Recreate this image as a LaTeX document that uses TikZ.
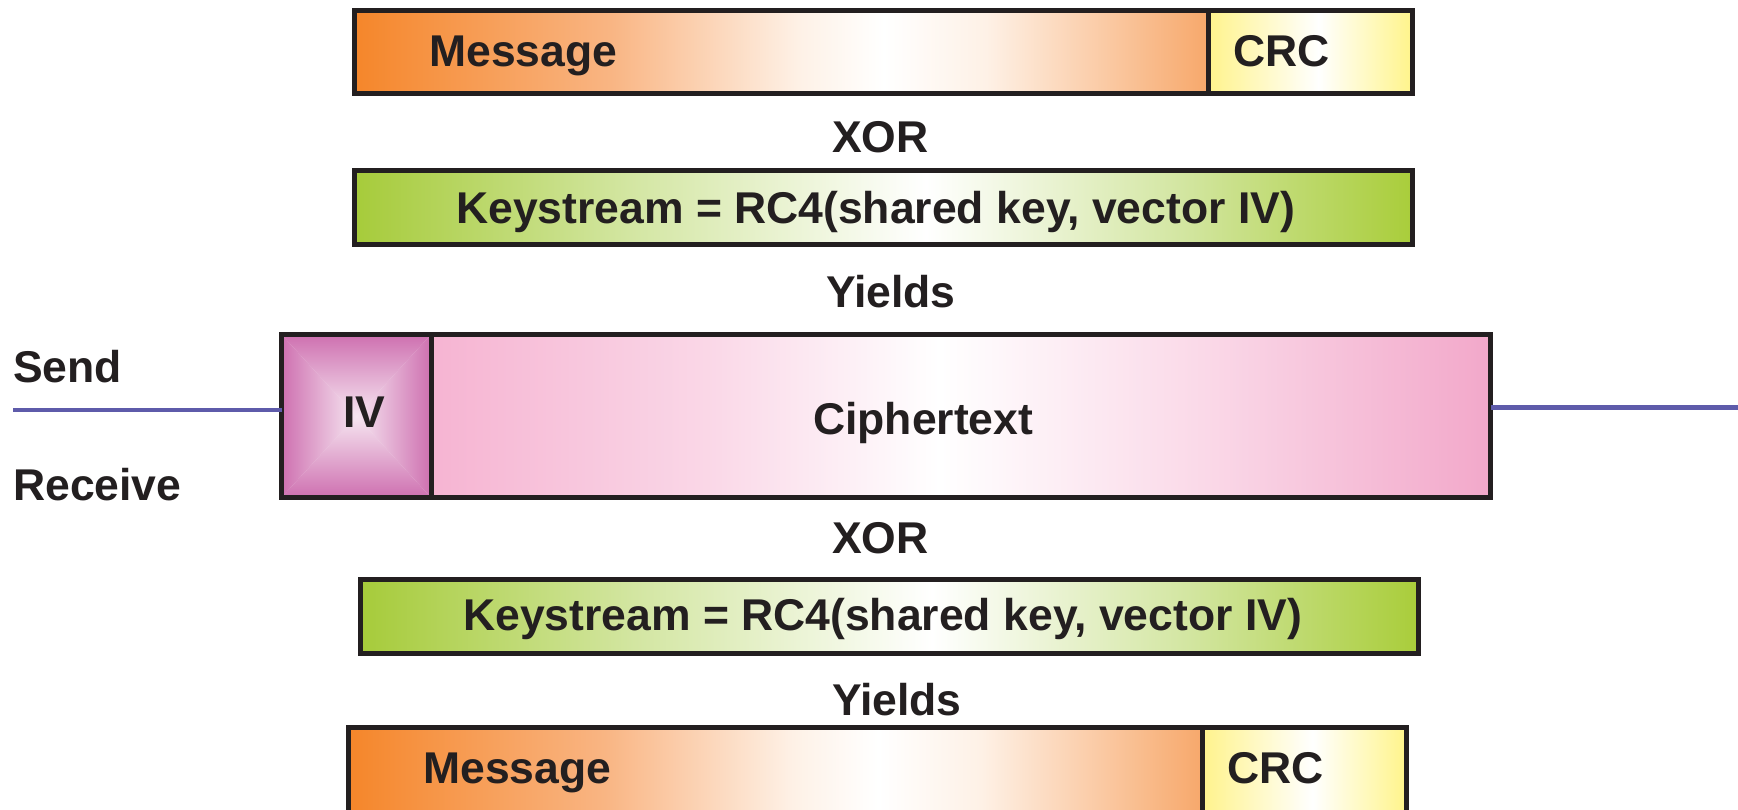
\documentclass[tikz,border=0pt]{standalone}
\usepackage{fontspec}
\setmainfont{Liberation Sans}

\definecolor{ink}{HTML}{231F20}
\definecolor{wire}{HTML}{5E5BAA}
\definecolor{orgA}{HTML}{F5862A}
\definecolor{orgB}{HTML}{F9B583}
\definecolor{orgW}{HTML}{FEF1E6}
\definecolor{orgC}{HTML}{F7A86B}
\definecolor{yelA}{HTML}{FFF38C}
\definecolor{yelC}{HTML}{FFF48A}
\definecolor{grnA}{HTML}{A6CB3A}
\definecolor{grnB}{HTML}{D3E6A2}
\definecolor{grnC}{HTML}{A9CD3A}
\definecolor{pnkA}{HTML}{F6B4D2}
\definecolor{pnkB}{HTML}{FAD7E7}
\definecolor{pnkC}{HTML}{F2A8CA}
\definecolor{ivEdge}{HTML}{CE70B0}
\definecolor{ivMid}{HTML}{F6E6F1}

% box shadings: the path spans 25bp..75bp of each 100bp shading
\pgfdeclarehorizontalshading{msgshade}{100bp}{color(0bp)=(orgA); color(25bp)=(orgA);
  color(40bp)=(orgB); color(51bp)=(orgW); color(56bp)=(white); color(62bp)=(orgW);
  color(75bp)=(orgC); color(100bp)=(orgC)}
\pgfdeclarehorizontalshading{crcshade}{100bp}{color(0bp)=(yelA); color(25bp)=(yelA);
  color(52bp)=(white); color(75bp)=(yelC); color(100bp)=(yelC)}
\pgfdeclarehorizontalshading{keyshade}{100bp}{color(0bp)=(grnA); color(25bp)=(grnA);
  color(38bp)=(grnB); color(52bp)=(white); color(64bp)=(grnB); color(75bp)=(grnC); color(100bp)=(grnC)}
\pgfdeclarehorizontalshading{ciphshade}{100bp}{color(0bp)=(pnkA); color(25bp)=(pnkA);
  color(38bp)=(pnkB); color(49bp)=(white); color(62bp)=(pnkB); color(75bp)=(pnkC); color(100bp)=(pnkC)}

\begin{document}
\begin{tikzpicture}[x=1pt,y=-1pt,
  field/.style={draw=ink, line width=5pt, rectangle, inner sep=0pt, outer sep=0pt,
    shade, minimum width=#1},
  label/.style={anchor=base west, inner sep=0pt, text=ink,
    font=\fontsize{44.5}{50}\selectfont\bfseries},
  wireline/.style={draw=wire, line width=4.5pt}]

\clip (0,0) rectangle (1738,809);
\fill[white] (0,0) rectangle (1738,809);

% plaintext frame (sender)
\node[field=853.5pt, minimum height=83pt, shading=msgshade] (msgA) at (781.25,52) {};
\node[field=204.5pt, minimum height=83pt, shading=crcshade] (crcA) at (1310.25,52) {};
\node[label] (msgAtxt) at (429,66) {Message};
\node[label] (crcAtxt) at (1233,66) {CRC};

\node[label] (xorA) at (832,152) {XOR};

% keystream (sender)
\node[field=1058pt, minimum height=74pt, shading=keyshade] (keyA) at (883.5,207.5) {};
\node[label] (keyAtxt) at (456,223) {Keystream = RC4(shared key, vector IV)};

\node[label] (yieldA) at (826,307) {Yields};

% transmitted frame
\node[field=149.5pt, minimum height=163pt, fill=ivMid, shade=false] (iv) at (356.25,416) {};
\shade[top color=ivEdge, bottom color=ivMid] (iv.north west) -- (iv.north east) -- (iv.center) -- cycle;
\shade[top color=ivMid, bottom color=ivEdge] (iv.south west) -- (iv.south east) -- (iv.center) -- cycle;
\shade[left color=ivEdge, right color=ivMid] (iv.north west) -- (iv.south west) -- (iv.center) -- cycle;
\shade[left color=ivMid, right color=ivEdge] (iv.north east) -- (iv.south east) -- (iv.center) -- cycle;
\draw[ink, line width=5pt] (iv.north west) rectangle (iv.south east);
\node[field=1059.5pt, minimum height=163pt, shading=ciphshade] (ciph) at (960.75,416) {};
\node[label] (ivtxt) at (343,427) {IV};
\node[label] (ciphtxt) at (813,434) {Ciphertext};

% link on either side
\coordinate (linkL) at (13,410);
\coordinate (linkR) at (1738,407.5);
\draw[wireline] (linkL) -- (linkL -| iv.west);
\draw[wireline] (ciph.east |- linkR) -- (linkR);
\node[label] (send) at (13,382) {Send};
\node[label] (recv) at (13,500) {Receive};

\node[label] (xorB) at (832,553) {XOR};

% keystream (receiver)
\node[field=1058pt, minimum height=74pt, shading=keyshade] (keyB) at (889.5,616.5) {};
\node[label] (keyBtxt) at (463,630) {Keystream = RC4(shared key, vector IV)};

\node[label] (yieldB) at (832,715) {Yields};

% plaintext frame (receiver)
\node[field=854pt, minimum height=102.5pt, shading=msgshade] (msgB) at (775.5,778.75) {};
\node[field=204pt, minimum height=102.5pt, shading=crcshade] (crcB) at (1304.5,778.75) {};
\node[label] (msgBtxt) at (423,783) {Message};
\node[label] (crcBtxt) at (1227,783) {CRC};
\end{tikzpicture}
\end{document}
